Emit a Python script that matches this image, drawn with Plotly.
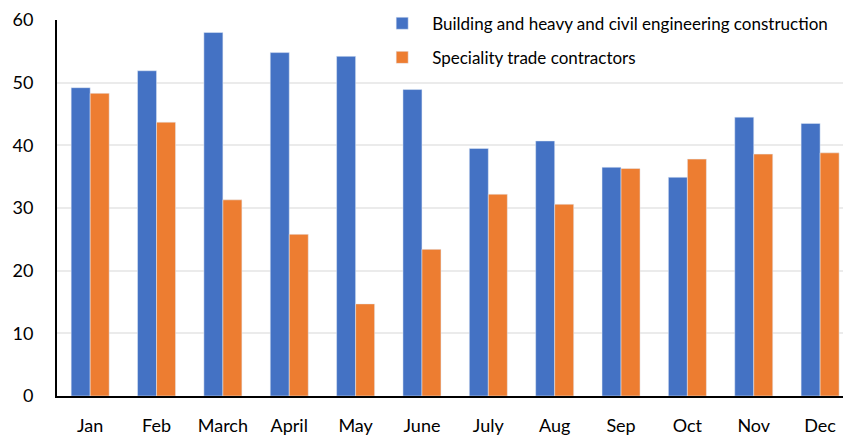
import plotly.graph_objects as go

months = ["Jan", "Feb", "March", "April", "May", "June",
          "July", "Aug", "Sep", "Oct", "Nov", "Dec"]
building = [49.2, 51.9, 58.0, 54.8, 54.2, 48.9, 39.5, 40.7, 36.5, 34.9, 44.5, 43.5]
speciality = [48.3, 43.7, 31.3, 25.8, 14.7, 23.4, 32.2, 30.6, 36.3, 37.8, 38.6, 38.8]

BLUE = "#4472C4"
ORANGE = "#ED7D31"
FONT = "Lato, 'Open Sans', sans-serif"

fig = go.Figure()
fig.add_trace(go.Bar(x=months, y=building, name="Building and heavy and civil engineering construction",
                     marker_color=BLUE, legendgroup="a"))
fig.add_trace(go.Bar(x=months, y=speciality, name="Speciality trade contractors",
                     marker_color=ORANGE, legendgroup="b"))

fig.update_layout(
    width=843, height=436,
    margin=dict(l=57, r=0, t=20, b=40),
    paper_bgcolor="white", plot_bgcolor="white",
    font=dict(family=FONT, size=18, color="#000000"),
    barmode="group", bargap=0.427, bargroupgap=0,
    showlegend=True,
    legend=dict(x=0.401, y=1.038, xanchor="left", yanchor="top",
                font=dict(size=17), bgcolor="rgba(0,0,0,0)",
                tracegroupgap=9, itemwidth=50, traceorder="grouped"),
)
fig.update_xaxes(
    range=[-0.5, 11.345], showline=True, linecolor="black", linewidth=2,
    showgrid=False, ticks="", ticklabelstandoff=12, automargin=False,
)
fig.update_yaxes(
    range=[0, 60], dtick=10, showline=True, linecolor="black", linewidth=2,
    showgrid=True, gridcolor="#EBEBEB", gridwidth=2, zeroline=False,
    ticks="", ticklabelstandoff=18, automargin=False,
)

# the page body has a default 8px margin; drop it so the figure fills the window
fig.write_html("out.html", config={"displayModeBar": False},
               post_script="document.body.style.margin='0';document.body.style.padding='0';")
